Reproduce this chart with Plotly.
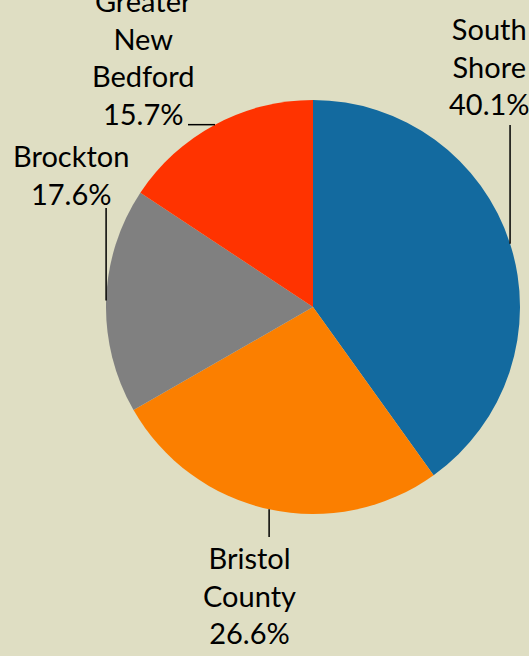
import math
import plotly.graph_objects as go

# Share of total by region
regions = ["South Shore", "Bristol County", "Brockton", "Greater New Bedford"]
shares = [40.1, 26.6, 17.6, 15.7]
label_lines = [["South", "Shore"], ["Bristol", "County"], ["Brockton"], ["Greater", "New", "Bedford"]]
colors = ["#136a9f", "#fb7f00", "#808080", "#ff3300"]

W, H = 529, 656
BG = "#dfdec3"
FONT = "Lato"

# Pie geometry in pixels
CX, CY, R = 313, 307, 207

# Label block centres (px) and leader line ends (px) for each slice
label_centre = [(489, 66), (249, 595), (71, 174), (143, 57)]
leader_end = [(None, 125), (None, 537), (None, 208), (188, None)]


def px(x, y):
    return x / W, 1 - y / H


fig = go.Figure(
    go.Pie(
        labels=regions,
        values=shares,
        sort=False,
        direction="clockwise",
        rotation=0,
        marker=dict(colors=colors, line=dict(width=0)),
        textinfo="none",
        hoverinfo="label+percent",
        showlegend=False,
        domain=dict(x=[(CX - R) / W, (CX + R) / W], y=[1 - (CY + R) / H, 1 - (CY - R) / H]),
    )
)

total = sum(shares)
start = 0.0
shapes, annotations = [], []
for i, v in enumerate(shares):
    mid = start + v / total * 360 / 2
    start += v / total * 360
    a = math.radians(mid)
    sx, sy = CX + R * math.sin(a), CY - R * math.cos(a)
    ex, ey = leader_end[i]
    ex = sx if ex is None else ex
    ey = sy if ey is None else ey
    x0, y0 = px(sx, sy)
    x1, y1 = px(ex, ey)
    shapes.append(dict(type="line", xref="paper", yref="paper", x0=x0, y0=y0, x1=x1, y1=y1,
                       line=dict(color="black", width=1.5)))
    lx, ly = px(*label_centre[i])
    text = "<br>".join(label_lines[i] + [f"{v:.1f}%"])
    annotations.append(dict(x=lx, y=ly, xref="paper", yref="paper", text=text, showarrow=False,
                            xanchor="center", yanchor="middle", align="center",
                            font=dict(family=FONT, size=29, color="black")))

fig.update_layout(
    width=W, height=H,
    margin=dict(l=0, r=0, t=0, b=0),
    paper_bgcolor=BG, plot_bgcolor=BG,
    shapes=shapes, annotations=annotations,
)

fig.write_html("out.html")
